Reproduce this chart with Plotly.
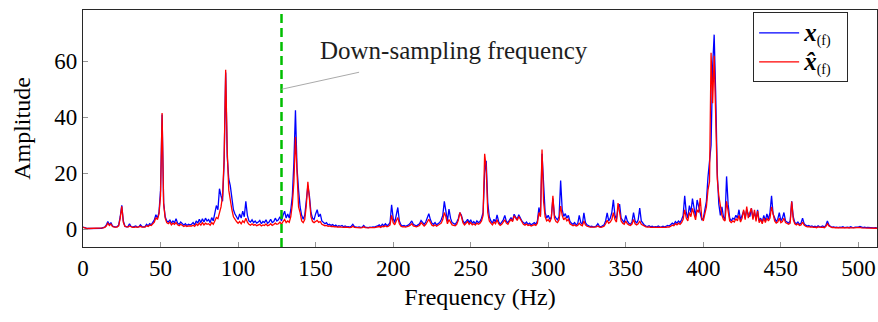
import plotly.graph_objects as go

freq = list(range(0, 513))

x_f = [
    0.8,0.5,0.4,0.3,0.3,0.4,0.3,0.4,0.3,0.4,
    0.4,0.5,0.4,0.6,0.8,1.5,2.8,1.6,2.4,1.2,
    0.9,0.8,1.0,1.5,4.5,8.6,3.0,1.2,0.9,1.0,
    2.0,1.0,0.8,0.9,1.2,0.8,0.9,1.6,1.0,0.9,
    1.0,1.8,1.2,2.0,1.6,2.5,3.4,5.2,4.0,6.0,
    14.0,41.0,9.5,4.5,3.0,2.6,3.4,2.2,3.0,2.4,
    3.8,2.2,1.8,2.6,1.9,1.5,2.0,1.4,1.8,1.6,
    1.8,2.4,1.6,3.0,2.2,3.6,2.4,3.8,2.6,4.0,
    3.0,3.5,2.4,4.2,3.0,6.0,8.5,7.0,14.5,12.0,
    10.0,24.0,56.0,26.0,18.0,15.5,11.0,7.0,5.5,4.2,
    3.5,5.5,4.0,6.5,4.5,10.0,5.0,3.0,2.6,3.4,
    2.4,3.0,2.2,2.6,3.2,2.0,2.8,2.4,3.4,2.2,
    2.6,3.6,2.4,2.8,4.0,3.0,3.4,4.5,3.0,5.0,
    6.5,4.0,5.5,4.0,7.0,12.0,24.0,42.5,22.0,14.0,
    8.0,5.0,3.6,5.0,10.0,15.5,12.0,6.0,4.0,3.5,
    5.5,7.0,4.5,5.5,3.0,2.6,2.0,2.4,1.6,1.8,
    1.4,1.7,1.2,1.5,1.0,1.3,1.1,1.4,0.9,1.2,
    0.9,1.0,0.8,1.1,1.8,1.0,0.8,0.7,0.9,0.7,
    0.8,1.4,0.8,0.7,0.6,0.8,0.7,0.9,0.8,1.1,
    1.2,1.6,1.0,1.8,1.3,2.0,1.4,1.6,2.5,8.8,
    4.0,2.4,5.0,7.8,3.0,1.6,1.2,1.4,1.1,1.3,
    1.6,2.2,3.0,1.8,1.4,1.2,1.6,2.0,3.2,2.4,
    1.8,2.6,4.0,5.6,3.5,2.2,1.8,2.4,1.6,2.0,
    2.4,3.4,5.0,10.0,6.0,3.0,7.2,4.0,2.4,2.0,
    1.8,2.6,3.8,6.0,5.0,3.0,2.2,2.8,3.6,2.4,
    3.4,2.2,2.8,2.0,3.0,2.4,2.8,4.0,6.0,20.0,
    24.5,9.5,4.5,3.0,2.2,3.6,2.6,5.2,2.8,1.8,
    2.6,3.4,5.0,2.8,2.4,3.6,4.2,3.0,5.4,4.4,
    3.6,5.2,4.0,3.0,2.4,2.0,2.6,1.8,2.2,1.6,
    2.0,2.4,1.8,3.0,7.8,5.0,27.0,13.5,6.0,4.0,
    5.0,3.6,4.4,11.0,5.0,4.0,3.4,4.6,17.4,7.0,
    4.6,5.6,4.0,5.0,2.8,2.2,1.8,2.4,1.6,2.0,
    5.0,2.4,1.8,5.9,2.4,1.6,1.2,1.0,1.1,0.9,
    1.0,1.2,2.0,1.1,0.9,1.2,1.6,3.0,5.9,3.0,
    4.0,6.0,10.5,5.0,3.6,7.5,9.0,4.0,3.0,2.4,
    5.0,3.0,2.2,1.8,2.6,6.0,3.0,2.2,3.4,7.6,
    3.0,2.0,1.5,1.2,1.0,1.3,0.9,1.1,0.8,1.0,
    0.9,1.2,0.8,0.9,1.1,0.8,1.0,1.4,1.2,1.6,
    2.2,1.8,2.8,2.2,3.0,2.4,3.4,5.0,12.0,6.0,
    4.0,8.5,6.0,11.0,7.0,4.5,10.5,8.0,6.0,3.5,
    4.0,6.5,10.0,18.5,25.0,30.0,58.0,69.5,48.0,20.0,
    9.0,5.0,8.0,4.5,3.4,18.9,9.0,4.0,3.0,4.0,
    3.6,5.0,4.0,7.0,3.4,5.0,6.5,4.0,7.0,5.5,
    4.5,7.5,4.0,6.0,3.6,7.0,3.0,4.0,2.6,5.0,
    3.0,5.5,3.6,6.0,12.0,5.5,4.0,2.8,3.6,6.0,
    3.0,4.0,6.0,3.0,2.6,2.2,3.0,10.0,4.5,2.4,
    2.0,2.6,1.8,2.2,4.0,2.0,1.5,1.2,1.4,1.0,
    1.2,0.9,1.1,0.8,1.3,0.9,1.0,1.2,0.8,1.4,
    3.0,1.6,1.0,0.8,0.9,0.7,0.8,0.6,0.8,0.7,
    0.9,0.6,0.7,0.8,0.6,0.9,0.7,0.6,0.8,0.7,
    0.8,1.0,0.7,0.6,0.8,0.6,0.7,0.6,0.5,0.6,0.5,0.6,0.5,
]

xhat_f = [
    0.7,0.5,0.4,0.3,0.3,0.3,0.3,0.3,0.3,0.3,
    0.4,0.4,0.4,0.5,0.7,1.2,2.2,1.4,1.9,1.0,
    0.8,0.7,0.8,1.2,4.0,8.2,2.5,1.0,0.8,0.8,
    1.2,0.8,0.7,0.7,0.9,0.7,0.8,1.1,0.8,0.7,
    0.8,1.3,1.0,1.5,1.4,2.0,2.6,4.2,3.5,5.5,
    12.0,41.5,9.0,4.0,2.4,2.0,2.6,1.6,2.2,1.8,
    2.4,1.6,1.3,1.8,1.3,1.0,1.4,1.0,1.2,1.1,
    1.2,1.5,1.1,1.9,1.4,2.2,1.5,2.4,1.6,2.2,
    1.8,2.0,1.5,2.4,1.8,3.0,4.2,3.8,6.0,8.0,
    12.0,25.0,57.0,28.0,14.0,10.0,7.0,4.5,3.5,2.8,
    2.2,2.8,2.0,3.0,2.4,4.0,2.6,1.8,1.5,2.0,
    1.5,1.7,1.3,1.6,1.8,1.2,1.6,1.4,1.9,1.3,
    1.5,2.0,1.4,1.7,2.2,1.8,2.0,2.6,1.8,2.8,
    3.5,2.4,3.0,2.5,4.5,9.0,17.0,33.0,17.0,8.0,
    6.0,3.0,2.4,3.5,8.5,17.0,11.0,4.5,2.8,2.4,
    2.8,3.2,2.5,2.8,1.8,1.6,1.3,1.4,1.1,1.2,
    1.0,1.1,0.9,1.0,0.8,0.9,0.8,0.9,0.7,0.8,
    0.7,0.7,0.6,0.7,1.1,0.7,0.6,0.5,0.6,0.5,
    0.6,0.9,0.6,0.5,0.5,0.6,0.5,0.6,0.6,0.7,
    0.8,1.0,0.7,1.1,0.9,1.3,0.9,1.1,1.6,5.0,
    2.4,1.6,3.0,4.2,2.0,1.1,0.9,1.0,0.8,0.9,
    1.1,1.5,2.0,1.2,1.0,0.9,1.1,1.4,2.4,1.6,
    1.2,1.7,2.6,3.6,2.5,1.5,1.2,1.6,1.1,1.4,
    1.6,2.2,3.5,6.0,4.5,2.0,3.5,2.6,1.6,1.4,
    1.3,1.8,3.2,6.0,4.6,2.4,1.6,2.2,2.8,1.8,
    2.4,1.6,2.0,1.5,2.2,1.8,2.2,3.0,5.0,27.0,
    22.0,6.0,3.0,2.2,1.6,2.6,2.0,3.4,2.0,1.4,
    1.8,2.6,3.4,2.2,1.8,2.8,3.6,2.8,4.8,4.0,
    3.2,4.6,3.6,2.4,1.8,1.5,1.9,1.4,1.6,1.2,
    1.5,1.7,1.4,2.2,6.0,4.5,28.5,10.0,4.5,3.0,
    3.5,2.6,4.0,12.0,4.0,2.8,2.4,3.4,8.3,5.0,
    3.4,4.2,3.0,3.6,2.0,1.5,1.3,1.6,1.2,1.4,
    2.2,1.6,1.3,3.0,1.6,1.1,0.9,0.8,0.8,0.7,
    0.8,0.9,1.2,0.8,0.7,0.9,1.1,2.0,3.2,2.2,
    2.6,3.5,6.0,3.5,2.6,9.4,6.0,3.0,2.2,1.8,
    3.0,2.0,1.6,1.4,1.9,3.5,2.0,1.6,2.0,3.0,
    1.8,1.4,1.1,0.9,0.8,0.9,0.7,0.8,0.7,0.7,
    0.7,0.8,0.6,0.7,0.8,0.6,0.7,0.9,0.8,1.1,
    1.5,1.3,2.0,1.6,2.2,1.8,2.4,3.6,7.0,4.0,
    3.0,6.0,4.5,7.5,5.0,3.4,7.0,6.0,11.2,4.0,
    3.0,5.0,8.0,14.0,17.0,63.0,45.0,62.0,38.0,18.0,
    12.0,8.0,5.0,3.5,3.0,10.0,6.0,3.0,2.4,3.0,
    2.6,3.8,3.0,5.0,2.6,4.0,7.0,3.5,8.1,4.0,
    6.0,7.5,3.5,7.0,2.8,6.5,2.4,3.5,2.0,4.0,
    2.4,4.0,3.0,4.0,8.0,5.0,3.0,2.2,2.6,4.0,
    2.4,2.8,4.0,2.4,2.0,1.8,2.2,9.9,3.5,2.0,
    1.6,2.0,1.4,1.6,2.6,1.5,1.1,0.9,1.0,0.8,
    0.9,0.7,0.8,0.6,0.9,0.7,0.7,0.8,0.6,1.0,
    2.0,1.2,0.8,0.6,0.7,0.5,0.6,0.5,0.6,0.5,
    0.6,0.5,0.5,0.6,0.5,0.6,0.5,0.5,0.6,0.5,
    0.6,0.7,0.5,0.5,0.6,0.5,0.5,0.5,0.4,0.5,0.4,0.5,0.4,
]

downsample_freq = 128
x_range = [0, 512]
y_range = [-6.3, 78.3]
x_ticks = [0, 50, 100, 150, 200, 250, 300, 350, 400, 450, 500]
y_ticks = [0, 20, 40, 60]

FONT = "Liberation Serif"


def legend_label(sym):
    return ("<b><i><span style='font-size:25px'>" + sym + "</span></i></b>"
            "<sub>(f)</sub>  ")


fig = go.Figure()
fig.add_trace(go.Scatter(x=freq, y=x_f, mode="lines",
                         line=dict(color="rgb(0,0,255)", width=1.3),
                         name=legend_label("x")))
fig.add_trace(go.Scatter(x=freq, y=xhat_f, mode="lines",
                         line=dict(color="rgb(255,0,0)", width=1.3),
                         name=legend_label("x̂")))

fig.add_shape(type="line", xref="x", yref="paper", x0=downsample_freq, x1=downsample_freq,
              y0=0, y1=1, line=dict(color="rgb(0,190,0)", width=2.5, dash="9px,5px"))

# pointer line
fig.add_annotation(x=downsample_freq, y=50, xref="x", yref="y",
                   ax=179, ay=56.2, axref="x", ayref="y",
                   text="", showarrow=True, arrowhead=0, arrowwidth=1,
                   arrowcolor="rgb(170,170,170)")
fig.add_annotation(x=239, y=64, xref="x", yref="y", text="Down-sampling frequency",
                   showarrow=False, font=dict(family=FONT, size=25, color="rgb(30,30,30)"))

axis_common = dict(showline=True, linecolor="rgb(40,40,40)", linewidth=1.2, mirror=True,
                   ticks="inside", ticklen=5, tickcolor="rgb(150,150,150)", tickwidth=1,
                   showgrid=False, zeroline=False, automargin=False,
                   tickfont=dict(family=FONT, size=23, color="black"))

fig.update_xaxes(range=x_range, tickvals=x_ticks, **axis_common,
                 title=dict(text="Frequency (Hz)", font=dict(family=FONT, size=24, color="black"),
                            standoff=8))
fig.update_yaxes(range=y_range, tickvals=y_ticks, **axis_common,
                 title=dict(text="Amplitude", font=dict(family=FONT, size=24, color="black"),
                            standoff=16))

fig.update_layout(
    width=878, height=322,
    margin=dict(l=83, r=1, t=10, b=75),
    paper_bgcolor="white", plot_bgcolor="white",
    showlegend=True,
    legend=dict(x=0.844, y=0.99, xanchor="left", yanchor="top",
                bgcolor="white", bordercolor="rgb(40,40,40)", borderwidth=1,
                font=dict(family=FONT, size=20, color="black"),
                tracegroupgap=0, itemwidth=40),
)

fig.write_html("out.html", config={"displayModeBar": False},
               post_script="document.body.style.margin='0';document.body.style.padding='0';")
